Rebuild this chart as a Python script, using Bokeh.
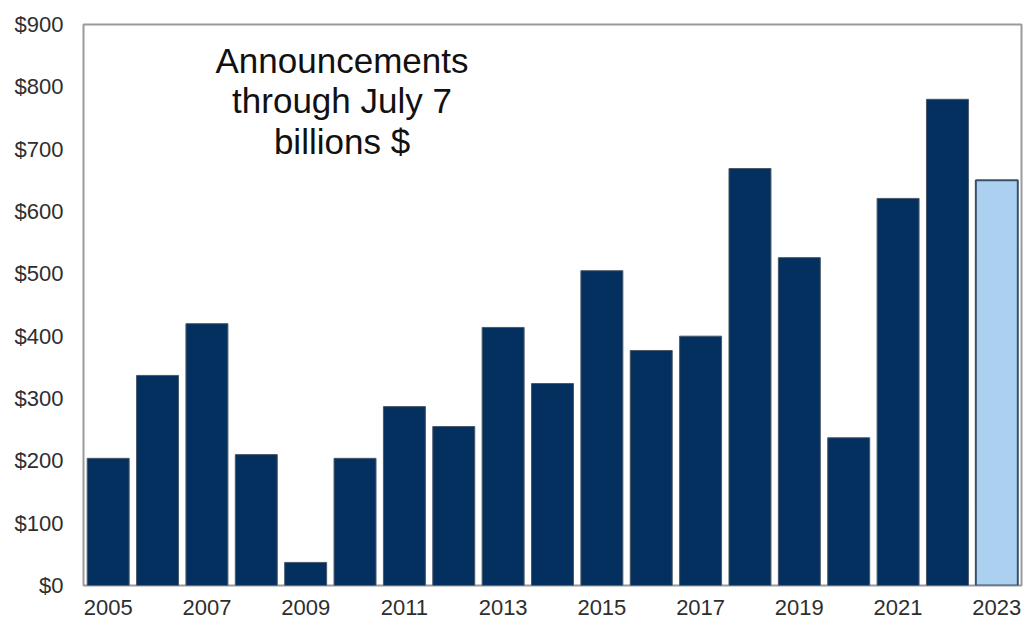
from bokeh.plotting import figure
from bokeh.models import FixedTicker, Label, Range1d, ColumnDataSource
from bokeh.embed import file_html
from bokeh.resources import INLINE

years = list(range(2005, 2024))
values = [204, 337, 420, 210, 37, 204, 287, 255, 414, 324, 505, 377, 400, 669, 526, 237, 621, 780, 650]
y_ticks = [0, 100, 200, 300, 400, 500, 600, 700, 800, 900]
x_ticks = [2005, 2007, 2009, 2011, 2013, 2015, 2017, 2019, 2021, 2023]
title_lines = ["Announcements", "through July 7", "billions $"]

fills = ["#03305e"] * (len(years) - 1) + ["#acd1f0"]
lines = ["#4a5868"] * (len(years) - 1) + ["#38506a"]
widths = [1.0] * (len(years) - 1) + [2.0]
src = ColumnDataSource(dict(x=years, top=values, fill=fills, line=lines, lw=widths))

p = figure(width=1026, height=619, output_backend="svg", toolbar_location=None,
           x_range=Range1d(2004.5, 2023.5), y_range=Range1d(0, 900),
           min_border_left=83, min_border_right=5, min_border_top=24, min_border_bottom=34)

p.vbar(x="x", top="top", width=0.85, bottom=0, source=src,
       fill_color="fill", line_color="line", line_width="lw")

p.xgrid.visible = False
p.ygrid.visible = False
p.outline_line_color = "#9a9a9a"
p.outline_line_width = 2

for ax in (p.xaxis[0], p.yaxis[0]):
    ax.axis_line_color = None
    ax.major_tick_line_color = None
    ax.minor_tick_line_color = None
    ax.major_tick_out = 0
    ax.major_tick_in = 0
    ax.major_label_text_font = "Liberation Sans"
    ax.major_label_text_font_size = "22px"
    ax.major_label_text_color = "#2e2e2e"

p.yaxis.ticker = FixedTicker(ticks=y_ticks)
p.yaxis.major_label_overrides = {t: "$" + str(t) for t in y_ticks}
p.yaxis.major_label_standoff = 20
p.xaxis.ticker = FixedTicker(ticks=x_ticks)
p.xaxis.major_label_standoff = 14

baselines = [525, 485, 444]
for txt, yb in zip(title_lines, baselines):
    p.add_layout(Label(x=258.5, y=yb, x_units="screen", y_units="screen", text=txt,
                       text_align="center", text_baseline="alphabetic",
                       text_font="Liberation Sans", text_font_size="35px",
                       text_color="#111111"))

p.background_fill_color = "white"
p.border_fill_color = "white"

open("out.html", "w").write(file_html(p, INLINE))
